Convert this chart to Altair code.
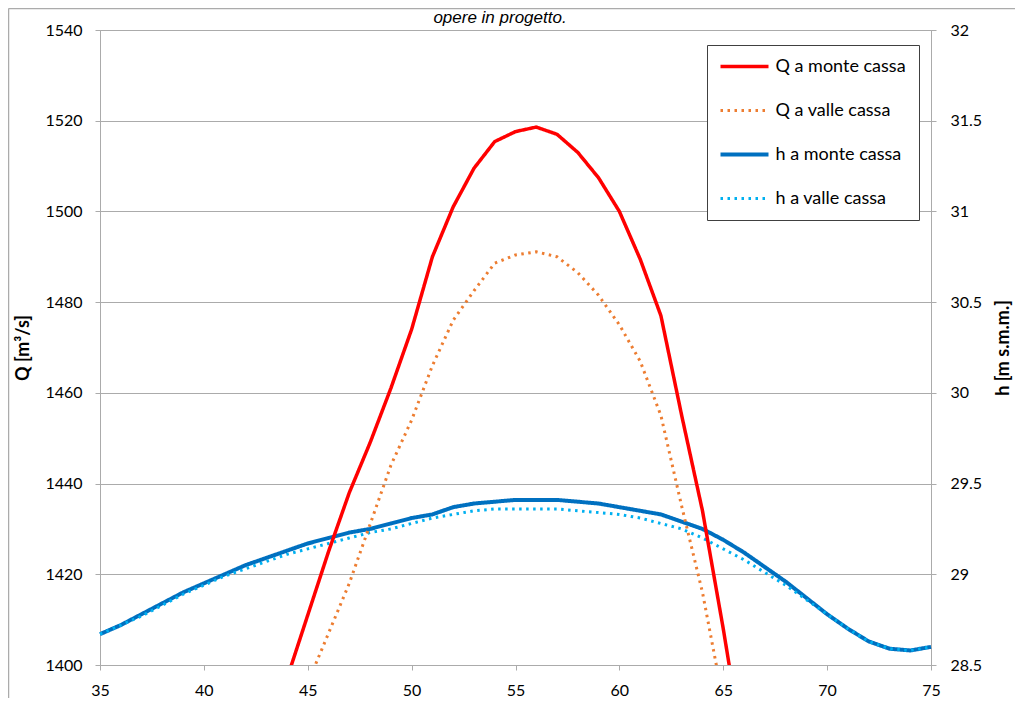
import altair as alt
import pandas as pd

# ---- data ----
series = ["Q a monte cassa", "Q a valle cassa", "h a monte cassa", "h a valle cassa"]

x_q_monte = list(range(44, 67))
q_monte = [1397, 1411, 1425, 1438, 1449, 1461, 1474, 1490, 1501, 1509.5, 1515.4, 1517.6,
           1518.6, 1517.0, 1513, 1507.4, 1500, 1489.5, 1477, 1455, 1434, 1408, 1380]

x_q_valle = list(range(45, 66))
q_valle = [1396, 1407, 1418, 1431, 1444, 1454, 1466, 1476, 1482.5, 1488.6, 1490.4,
           1491.1, 1490, 1486.5, 1481.5, 1475, 1467, 1455, 1435, 1416, 1392]

x_h = list(range(35, 76))
h_monte = [28.67, 28.72, 28.78, 28.84, 28.90, 28.95, 29.00, 29.05, 29.09, 29.13, 29.17,
           29.20, 29.23, 29.25, 29.28, 29.31, 29.33, 29.37, 29.39, 29.40, 29.41, 29.41,
           29.41, 29.40, 29.39, 29.37, 29.35, 29.33, 29.29, 29.25, 29.19, 29.12, 29.04,
           28.96, 28.87, 28.78, 28.70, 28.63, 28.59, 28.58, 28.60]
h_valle = [28.67, 28.72, 28.77, 28.83, 28.89, 28.94, 28.99, 29.03, 29.07, 29.11, 29.14,
           29.17, 29.20, 29.23, 29.25, 29.28, 29.31, 29.33, 29.35, 29.36, 29.36, 29.36,
           29.36, 29.35, 29.34, 29.33, 29.31, 29.28, 29.25, 29.20, 29.14, 29.08, 29.01,
           28.94, 28.86, 28.78, 28.70, 28.63, 28.59, 28.58, 28.60]

x_ticks = [35, 40, 45, 50, 55, 60, 65, 70, 75]
q_ticks = [1400, 1420, 1440, 1460, 1480, 1500, 1520, 1540]
h_ticks = [28.5, 29, 29.5, 30, 30.5, 31, 31.5, 32]

title_text = "opere in progetto."

# ---- styles ----
colors = ["#FF0000", "#ED7D31", "#0070C0", "#00B0F0"]
dashes = [[1, 0], [2.5, 4.5], [1, 0], [2.5, 4.5]]
widths = [3.5, 3, 4, 3]
FONT = "Lato"
GRAY = "#ABABAB"

dfq = pd.concat([
    pd.DataFrame({"x": x_q_monte, "v": q_monte, "s": series[0]}),
    pd.DataFrame({"x": x_q_valle, "v": q_valle, "s": series[1]}),
])
dfh = pd.concat([
    pd.DataFrame({"x": x_h, "v": h_monte, "s": series[2]}),
    pd.DataFrame({"x": x_h, "v": h_valle, "s": series[3]}),
])

leg = alt.Legend(title=None, orient="none", legendX=607, legendY=15)
color = alt.Color("s:N", scale=alt.Scale(domain=series, range=colors), legend=leg)
dash = alt.StrokeDash("s:N", scale=alt.Scale(domain=series, range=dashes), legend=leg)
sw = alt.StrokeWidth("s:N", scale=alt.Scale(type="ordinal", domain=series, range=widths), legend=leg)

xenc = alt.X("x:Q", scale=alt.Scale(domain=[35, 75], nice=False),
             axis=alt.Axis(values=x_ticks, title=None, grid=False, labelPadding=12,
                           labelFlush=False))

h_layer = alt.Chart(dfh).mark_line(strokeJoin="round").encode(
    x=xenc,
    y=alt.Y("v:Q", scale=alt.Scale(domain=[28.5, 32], nice=False),
            axis=alt.Axis(orient="right", values=h_ticks, format="~g", grid=False,
                          title="h [m s.m.m.]", titleX=72, titleY=317.5, titleAngle=270,
                          titleAlign="center", titleBaseline="middle", labelPadding=14)),
    color=color, strokeDash=dash, strokeWidth=sw,
)

q_layer = alt.Chart(dfq).mark_line(strokeJoin="round", clip=True).encode(
    x=xenc,
    y=alt.Y("v:Q", scale=alt.Scale(domain=[1400, 1540], nice=False),
            axis=alt.Axis(orient="left", values=q_ticks, format="d", grid=True,
                          gridColor=GRAY, title="Q [m³/s]", titleX=-77, titleY=317.5,
                          titleAngle=270, titleAlign="center", titleBaseline="middle",
                          labelPadding=13)),
    color=color, strokeDash=dash, strokeWidth=sw,
)

one = pd.DataFrame({"a": [0]})
frame_left = alt.Chart(one).mark_rule(color=GRAY, strokeWidth=1.5).encode(
    x=alt.value(-91.5), y=alt.value(-21.5), y2=alt.value(680))
frame_top = alt.Chart(one).mark_rule(color=GRAY, strokeWidth=1.5).encode(
    x=alt.value(-91.5), x2=alt.value(1000), y=alt.value(-21.5))
title = alt.Chart(one).mark_text(font="Liberation Sans", fontStyle="italic", fontSize=17,
                                 align="center", baseline="alphabetic", color="#000000").encode(
    x=alt.value(400), y=alt.value(-7), text=alt.value(title_text))

chart = alt.layer(frame_left, frame_top, title, h_layer, q_layer).resolve_scale(
    y="independent"
).properties(
    width=831, height=635,
    autosize=alt.AutoSizeParams(type="none"),
    padding={"left": 92, "top": 22, "right": 84, "bottom": 33},
).configure_view(stroke=GRAY, strokeWidth=1).configure_axis(
    labelFont=FONT, labelFontSize=16, labelColor="#000000",
    titleFont=FONT, titleFontSize=18, titleFontWeight="bold", titleColor="#000000",
    domainColor=GRAY, tickColor=GRAY, tickSize=5, domainWidth=1, tickWidth=1,
).configure_legend(
    labelFont=FONT, labelFontSize=18, labelColor="#000000", labelOffset=22,
    symbolType="M-4,0L4,0", symbolSize=144, symbolOffset=16,
    padding=12.5, rowPadding=26,
    strokeColor="#404040", fillColor="#FFFFFF", labelLimit=300,
)

chart.save("out.html", embed_options={"renderer": "svg", "actions": False})
